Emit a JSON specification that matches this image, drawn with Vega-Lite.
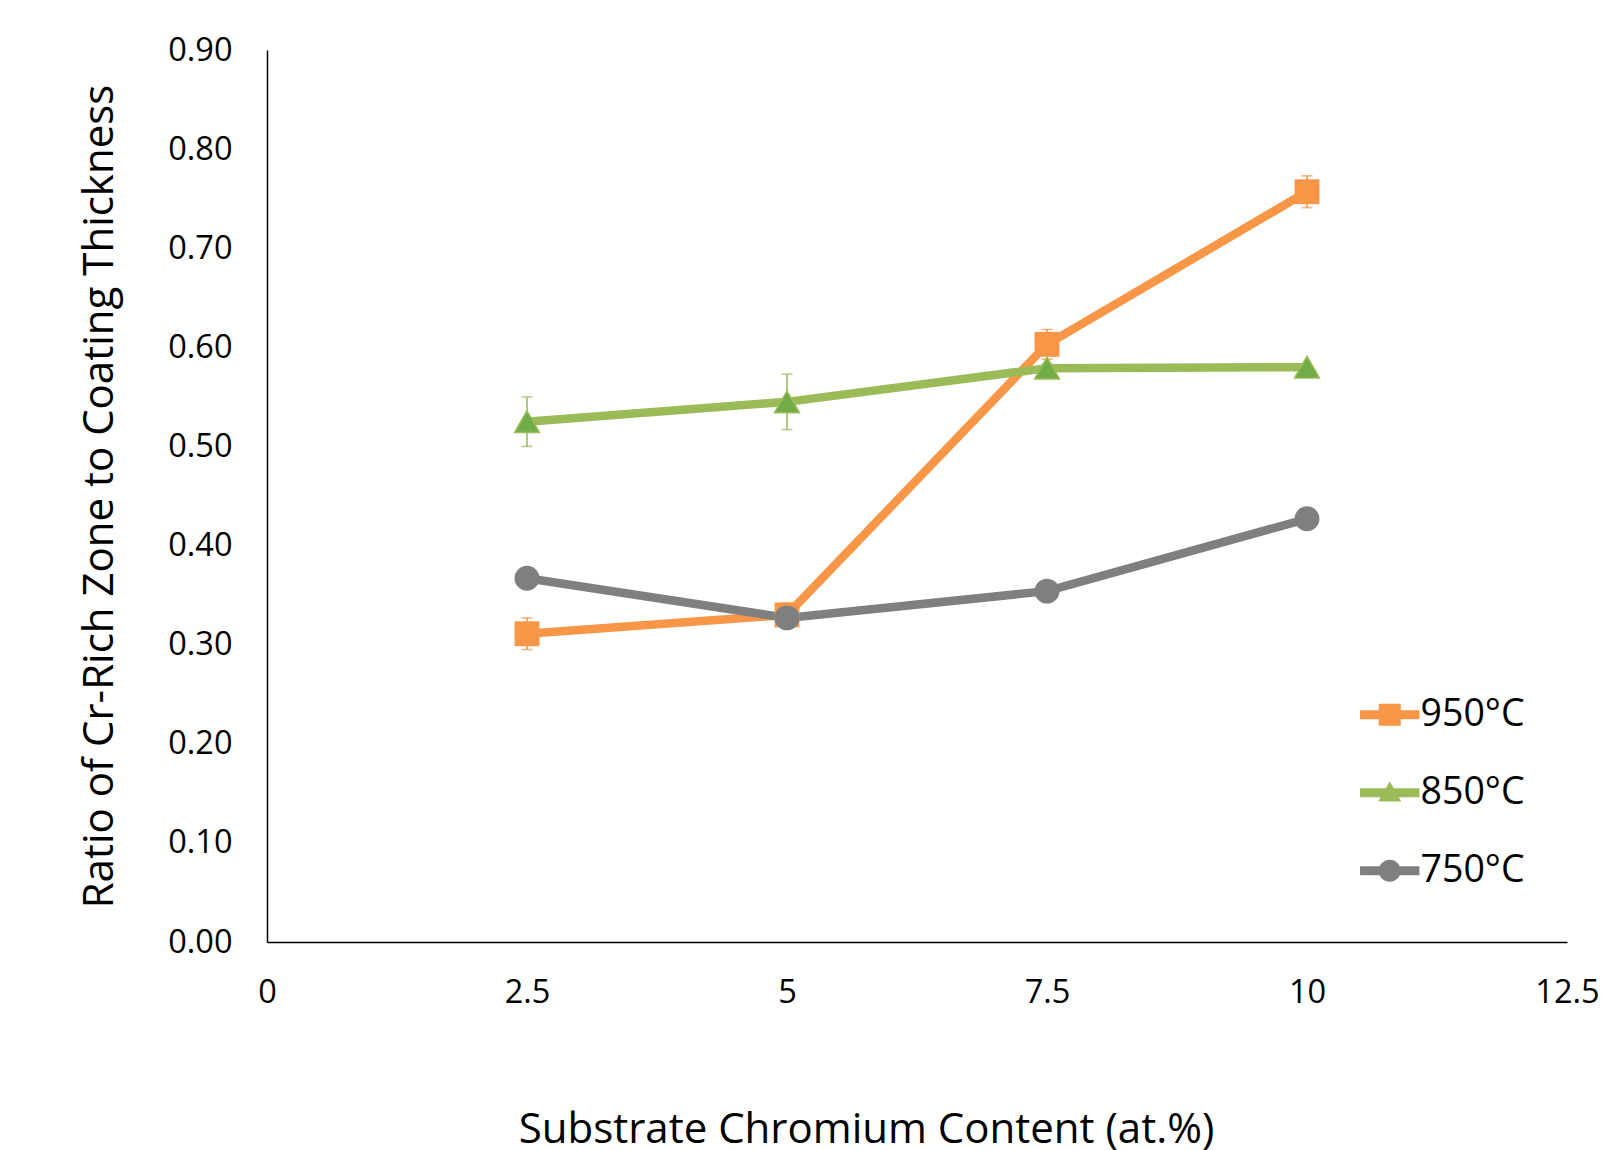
{
  "$schema": "https://vega.github.io/schema/vega-lite/v6.json",
  "width": 1300,
  "height": 892,
  "autosize": {"type": "none"},
  "padding": {"left": 267, "top": 50, "right": 37, "bottom": 208},
  "background": "white",
  "config": {
    "font": "Open Sans",
    "view": {"stroke": null},
    "axis": {"grid": false, "domainColor": "#000000", "domainWidth": 1.5, "ticks": false, "labelColor": "#000000", "titleColor": "#000000", "labelFont": "Open Sans", "titleFont": "Open Sans", "titleFontWeight": "normal"}
  },
  "datasets": {
    "pts": [
      {"series": "950°C", "cr": 2.5, "ratio": 0.311},
      {"series": "950°C", "cr": 5, "ratio": 0.330},
      {"series": "950°C", "cr": 7.5, "ratio": 0.603},
      {"series": "950°C", "cr": 10, "ratio": 0.757},
      {"series": "850°C", "cr": 2.5, "ratio": 0.525},
      {"series": "850°C", "cr": 5, "ratio": 0.545},
      {"series": "850°C", "cr": 7.5, "ratio": 0.579},
      {"series": "850°C", "cr": 10, "ratio": 0.580},
      {"series": "750°C", "cr": 2.5, "ratio": 0.367},
      {"series": "750°C", "cr": 5, "ratio": 0.327},
      {"series": "750°C", "cr": 7.5, "ratio": 0.354},
      {"series": "750°C", "cr": 10, "ratio": 0.427}
    ],
    "errs": [
      {"series": "950°C", "cr": 2.5, "lo": 0.295, "hi": 0.327},
      {"series": "950°C", "cr": 5, "lo": 0.318, "hi": 0.342},
      {"series": "950°C", "cr": 7.5, "lo": 0.588, "hi": 0.618},
      {"series": "950°C", "cr": 10, "lo": 0.741, "hi": 0.773},
      {"series": "850°C", "cr": 2.5, "lo": 0.500, "hi": 0.550},
      {"series": "850°C", "cr": 5, "lo": 0.517, "hi": 0.573},
      {"series": "850°C", "cr": 7.5, "lo": 0.576, "hi": 0.583}
    ]
  },
  "encoding": {
    "x": {
      "field": "cr", "type": "quantitative",
      "scale": {"domain": [0, 12.5], "nice": false, "zero": false},
      "axis": {"values": [0, 2.5, 5, 7.5, 10, 12.5], "format": ".1~f", "labelFontSize": 32.5, "labelPadding": 34, "title": "Substrate Chromium Content (at.%)", "titleFontSize": 42, "titlePadding": 101, "titleX": 599, "titleAlign": "center", "titleAnchor": "start", "labelFlush": false}
    },
    "color": {
      "field": "series", "type": "nominal",
      "scale": {"domain": ["950°C", "850°C", "750°C"], "range": ["#F79646", "#9BBB59", "#7F7F7F"]},
      "legend": {
        "orient": "none", "legendX": 1104, "legendY": 646, "title": null,
        "symbolSize": 484, "labelFontSize": 37.5, "labelFont": "Open Sans", "labelColor": "#000000",
        "labelOffset": 12, "rowPadding": 39, "symbolStrokeWidth": 0, "symbolOpacity": 1
      }
    }
  },
  "layer": [
    {
      "data": {"name": "errs"},
      "mark": {"type": "errorbar", "ticks": {"size": 11}, "thickness": 1.6},
      "encoding": {
        "y": {"field": "lo", "type": "quantitative", "scale": {"domain": [0, 0.9], "nice": false}, "axis": {"values": [0, 0.1, 0.2, 0.3, 0.4, 0.5, 0.6, 0.7, 0.8, 0.9], "format": ".2f", "labelFontSize": 32.5, "labelPadding": 35, "title": "Ratio of Cr-Rich Zone to Coating Thickness", "titleFontSize": 42, "titlePadding": 46}},
        "y2": {"field": "hi"}
      }
    },
    {
      "data": {"name": "pts"},
      "mark": {"type": "line", "strokeWidth": 8.5},
      "encoding": {
        "y": {"field": "ratio", "type": "quantitative"}
      }
    },
    {
      "data": {"name": "pts"},
      "mark": {"type": "point", "filled": true, "opacity": 1, "size": 620, "shape": {"expr": "datum.series == '950°C' ? 'square' : datum.series == '850°C' ? 'triangle-up' : 'circle'"}},
      "encoding": {
        "y": {"field": "ratio", "type": "quantitative"}
      }
    },
    {
      "data": {"name": "pts"},
      "transform": [{"filter": "datum.series == '850°C'"}],
      "mark": {"type": "point", "shape": "triangle-up", "filled": true, "opacity": 1, "size": 620, "fill": "#70AD47", "stroke": "#9BBB59", "strokeWidth": 1.5},
      "encoding": {
        "y": {"field": "ratio", "type": "quantitative"},
        "color": {"value": "#70AD47"}
      }
    },
    {
      "data": {"name": "pts"},
      "transform": [{"filter": "datum.cr > 100"}],
      "mark": {"type": "point", "filled": true, "opacity": 1, "size": 484},
      "encoding": {
        "y": {"field": "ratio", "type": "quantitative"},
        "shape": {
          "field": "series", "type": "nominal",
          "scale": {"domain": ["950°C", "850°C", "750°C"], "range": ["M-2.7,-0.4H2.7V0.4H-2.7Z M-1,-1H1V1H-1Z", "M-2.7,-0.4H2.7V0.4H-2.7Z M0,-1.05L1.05,0.8H-1.05Z", "M-2.7,-0.4H2.7V0.4H-2.7Z M-1,0A1,1,0,1,1,1,0A1,1,0,1,1,-1,0Z"]}
        }
      }
    }
  ]
}
